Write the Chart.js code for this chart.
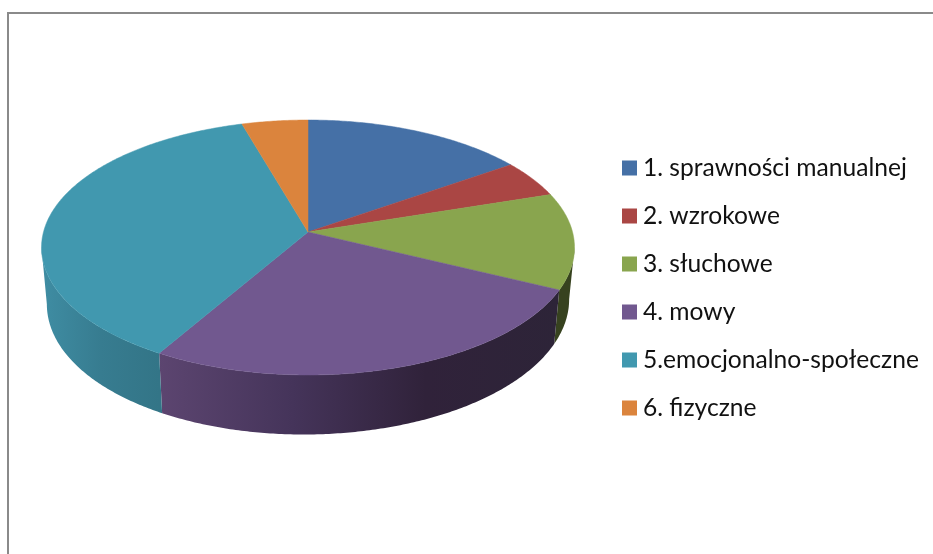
<!DOCTYPE html>
<html lang="pl">
<head>
<meta charset="utf-8">
<title>Wykres</title>
<script src="https://cdn.jsdelivr.net/npm/chart.js@4/dist/chart.umd.min.js"></script>
<style>
    html, body { margin: 0; padding: 0; background: #fff; overflow: hidden; }
    #frame { position: absolute; left: 7px; top: 12px; width: 940px; height: 560px; border-left: 2px solid #8a8a8a; border-top: 2px solid #8a8a8a; }
    #wrap { position: absolute; left: 0; top: 0; width: 933px; height: 554px; }
</style>
</head>
<body>
<div id="frame"></div>
<div id="wrap"><canvas id="chart"></canvas></div>
<script>
const labels = ['1. sprawności manualnej', '2. wzrokowe', '3. słuchowe', '4. mowy', '5.emocjonalno-społeczne', '6. fizyczne'];
const values = [15.3, 4.7, 12.2, 26.2, 37.1, 4.5];
const colors = ['#4570a6', '#aa4644', '#89a54e', '#71588f', '#4198af', '#db843d'];
const wallColors = [
    ['#3a5e8a'],
    ['#8a3836'],
    ['#37421f'],
    ['#5c4570', '#45345a', '#30223a', '#2d2438'],
    ['#3f8da3', '#377c90', '#337587'],
    ['#b36c32']
];

// the pie is flattened with a perspective, so the apex sits above the middle of the ellipse
const tilt = { k: -0.1216, sx: 0.9888, sy: 0.4695, apexShift: -54.5, wallScale: 0.98, wallBase: 53.5, wallGrowV: 6, wallGrowU: -2.5 };

function project(arc, angle) {
    const u = Math.cos(angle), v = Math.sin(angle);
    const w = 1 + tilt.k * v;
    return {
        x: arc.x + arc.outerRadius * tilt.sx * u / w,
        y: arc.y + tilt.apexShift + arc.outerRadius * tilt.sy * v / w
    };
}

function arcPoints(from, to) {
    const steps = Math.max(2, Math.ceil((to - from) / 0.01));
    const pts = [];
    for (let i = 0; i <= steps; i++) pts.push(from + (to - from) * i / steps);
    return pts;
}

function drawWall(ctx, arc, shades) {
    // rim is visible between the two widest points of the ellipse
    const edge = Math.asin(-tilt.k);
    const from = Math.max(arc.startAngle, edge), to = Math.min(arc.endAngle, Math.PI - edge);
    if (to <= from) return;
    const angles = arcPoints(from, to);
    const top = angles.map(a => project(arc, a));
    const bottom = angles.map((a, i) => ({
        x: arc.x + (top[i].x - arc.x) * tilt.wallScale,
        y: top[i].y + tilt.wallBase + tilt.wallGrowV * Math.sin(a) + tilt.wallGrowU * Math.cos(a)
    }));
    const xs = top.map(p => p.x);
    const grad = ctx.createLinearGradient(Math.min(...xs), 0, Math.max(...xs), 0);
    shades.forEach((c, i) => grad.addColorStop(shades.length > 1 ? i / (shades.length - 1) : 0, c));
    ctx.beginPath();
    top.forEach((p, i) => i ? ctx.lineTo(p.x, p.y) : ctx.moveTo(p.x, p.y));
    bottom.reverse().forEach(p => ctx.lineTo(p.x, p.y));
    ctx.closePath();
    ctx.fillStyle = grad;
    ctx.fill();
}

function drawFace(ctx, arc, color) {
    ctx.beginPath();
    ctx.moveTo(arc.x, arc.y + tilt.apexShift);
    arcPoints(arc.startAngle, arc.endAngle).forEach(a => {
        const p = project(arc, a);
        ctx.lineTo(p.x, p.y);
    });
    ctx.closePath();
    ctx.fillStyle = color;
    ctx.strokeStyle = color;
    ctx.lineWidth = 0.5;
    ctx.fill();
    ctx.stroke();
}

const tiltedPie = {
    id: 'tiltedPie',
    afterLayout(chart) {
        // legend is narrower than its content, pull it back so the squares land where they should
        chart.legend.left -= 11.1;
        chart.legend.top += 1.5;
        chart.legend.bottom += 1.5;
    },
    beforeDatasetsDraw(chart) {
        const ctx = chart.ctx;
        const arcs = chart.getDatasetMeta(0).data;
        ctx.save();
        arcs.forEach((arc, i) => drawWall(ctx, arc, wallColors[i]));
        arcs.forEach((arc, i) => drawFace(ctx, arc, colors[i]));
        ctx.restore();
        return false;
    }
};

new Chart(document.getElementById('chart'), {
    type: 'pie',
    data: {
        labels: labels,
        datasets: [{ data: values, backgroundColor: colors, borderWidth: 0 }]
    },
    options: {
        responsive: true,
        maintainAspectRatio: false,
        animation: false,
        layout: { padding: { top: 19 } },
        plugins: {
            tooltip: { enabled: false },
            legend: {
                position: 'right',
                maxWidth: 317,
                labels: {
                    // small box with a thick border: keeps the text close to a 15px square
                    boxWidth: 2.4,
                    boxHeight: 2.4,
                    padding: 23.4,
                    color: '#111',
                    font: { family: 'Lato', size: 24.6 },
                    generateLabels(chart) {
                        return Chart.overrides.pie.plugins.legend.labels.generateLabels(chart).map(item => ({
                            ...item,
                            strokeStyle: item.fillStyle,
                            lineWidth: 12.6
                        }));
                    }
                }
            }
        }
    },
    plugins: [tiltedPie]
});
</script>
</body>
</html>
